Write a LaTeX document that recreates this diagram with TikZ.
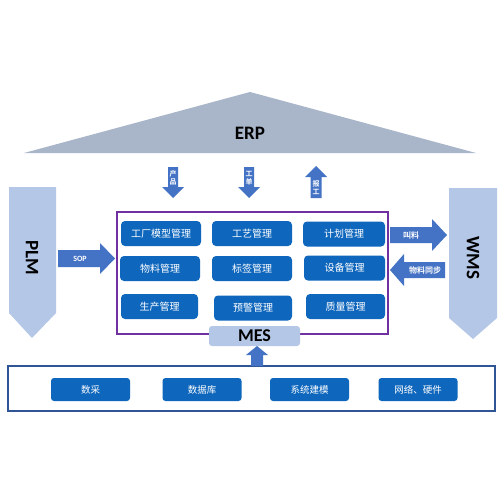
\documentclass[tikz,border=0pt]{standalone}
\usepackage{fontspec}
\setmainfont{Carlito}
\newfontfamily\cjk{Noto Sans CJK SC}
\newfontfamily\cjkb{Noto Sans CJK SC Bold}
\definecolor{roof}{HTML}{A9B5C9}
\definecolor{side}{HTML}{B4C7E7}
\definecolor{modblue}{HTML}{0F67BD}
\definecolor{arrblue}{HTML}{4472C4}
\definecolor{mespurple}{HTML}{7030A0}
\definecolor{basebd}{HTML}{2F5597}
\tikzset{
  modbox/.style={fill=modblue, rounded corners=4pt, minimum width=80pt, minimum height=25pt, inner sep=0pt, text=white, font=\cjk\fontsize{10}{11}\selectfont},
  basebox/.style={fill=modblue, rounded corners=3pt, minimum width=79pt, minimum height=23pt, inner sep=0pt, text=white, font=\cjk\fontsize{9.5}{10}\selectfont},
  blockarrow/.style={fill=arrblue, draw=none},
  arrlabel/.style={text=white, inner sep=0pt, font=\cjkb\fontsize{8}{9}\selectfont},
  vlabel/.style={text=white, inner sep=0pt, align=center, font=\cjkb\fontsize{7}{8}\selectfont},
  biglabel/.style={inner sep=0pt, font=\fontsize{19}{20}\selectfont\bfseries}
}
\begin{document}
\begin{tikzpicture}[x=1pt,y=-1pt]
\useasboundingbox (0,0) rectangle (500,500);
\fill[white] (0,0) rectangle (500,500);
% ERP roof
\fill[roof] (24,153) -- (250,92) -- (476,153) -- cycle;
\node[biglabel] (erp) at (250,133) {ERP};
% PLM
\fill[side] (9,187) -- (56,187) -- (56,313) -- (32,338) -- (9,313) -- cycle;
\node[biglabel, rotate=-90] (plm) at (32,258) {PLM};
% WMS
\fill[side] (449,188) -- (497,188) -- (497,318) -- (473,339) -- (449,318) -- cycle;
\node[biglabel, rotate=-90] (wms) at (473,258) {WMS};
% MES frame
\draw[mespurple, line width=1.3pt] (117,212) rectangle (388,334);
\node[modbox] (m11) at (161,233.5) {工厂模型管理};
\node[modbox] (m12) at (252,233.5) {工艺管理};
\node[modbox, minimum width=82pt] (m13) at (344,234) {计划管理};
\node[modbox] (m21) at (160,268.5) {物料管理};
\node[modbox] (m22) at (252,268.5) {标签管理};
\node[modbox, minimum width=81pt] (m23) at (344.5,268) {设备管理};
\node[modbox, minimum width=77pt] (m31) at (159.5,306.5) {生产管理};
\node[modbox, minimum width=78pt] (m32) at (253,308) {预警管理};
\node[modbox, minimum width=79pt] (m33) at (345.5,306.5) {质量管理};
% MES label
\node[fill=side, rounded corners=3pt, minimum width=91pt, minimum height=20pt, inner sep=0pt, font=\fontsize{18}{19}\selectfont\bfseries] (mes) at (254.5,336) {MES};
% base layer
\draw[basebd, line width=1.6pt, fill=white] (8,366) rectangle (495,411);
\node[basebox] (b1) at (90.5,389.5) {数采};
\node[basebox] (b2) at (202,389.5) {数据库};
\node[basebox] (b3) at (309.5,389.5) {系统建模};
\node[basebox] (b4) at (418,389.5) {网络、硬件};
% up arrow base -> MES
\fill[blockarrow] (251,366) -- (263,366) -- (263,355) -- (268,355) -- (257,346) -- (246,355) -- (251,355) -- cycle;
% top arrows
\fill[blockarrow] (168,167) -- (178,167) -- (178,187) -- (184,187) -- (173,198) -- (162,187) -- (168,187) -- cycle;
\node[vlabel] (t1) at (173,178) {产\\品};
\fill[blockarrow] (244,167) -- (254,167) -- (254,187) -- (260,187) -- (249,198) -- (238,187) -- (244,187) -- cycle;
\node[vlabel] (t2) at (249,178) {工\\单};
\fill[blockarrow] (310.5,198) -- (321.5,198) -- (321.5,177) -- (327,177) -- (316,166) -- (305,177) -- (310.5,177) -- cycle;
\node[vlabel] (t3) at (316,188) {报\\工};
% SOP
\fill[blockarrow] (58,250) -- (100,250) -- (100,243) -- (115,258.5) -- (100,274) -- (100,267) -- (58,267) -- cycle;
\node[text=white, inner sep=0pt, font=\fontsize{8}{9}\selectfont\bfseries] (sop) at (80,258.5) {SOP};
% 叫料
\fill[blockarrow] (390,227) -- (432,227) -- (432,219) -- (447,235) -- (432,251) -- (432,243) -- (390,243) -- cycle;
\node[arrlabel] (jl) at (411,235) {叫料};
% 物料同步
\fill[blockarrow] (445,262) -- (404,262) -- (404,254) -- (390,270) -- (404,286) -- (404,278) -- (445,278) -- cycle;
\node[arrlabel] (wl) at (425,270) {物料同步};
\end{tikzpicture}
\end{document}
